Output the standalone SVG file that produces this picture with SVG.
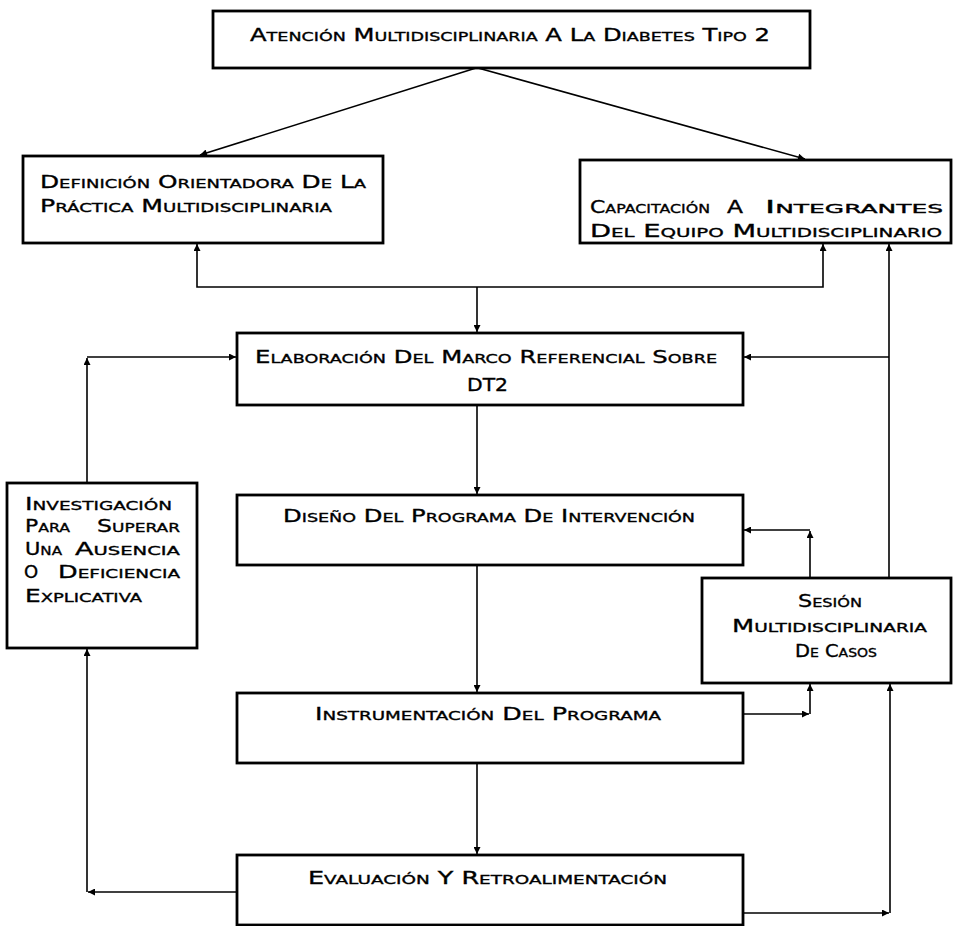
<svg xmlns="http://www.w3.org/2000/svg" width="954" height="926" viewBox="0 0 954 926">
<defs>
<marker id="ah" viewBox="0 0 10 10" refX="10" refY="5" markerWidth="9" markerHeight="7" markerUnits="userSpaceOnUse" orient="auto">
<path d="M0,0 L10,5 L0,10 z" fill="#000"/>
</marker>
<style>
.box{fill:#fff;stroke:#000;stroke-width:2.8}
.t{font-family:"DejaVu Sans","Liberation Sans",sans-serif;font-size:18px;font-variant:small-caps;fill:#000;stroke:#000;stroke-width:0.35}
.c{fill:none;stroke:#000;stroke-width:1.6;marker-end:url(#ah)}
</style>
</defs>
<rect width="954" height="926" fill="#fff"/>
<g id="connectors">
<path class="c" d="M476,68 L200,155"/>
<path class="c" d="M478,68 L805,159"/>
<path class="c" d="M477,287 L477,332"/>
<path class="c" d="M477,287 L197,287 L197,244"/>
<path class="c" d="M477,287 L823,287 L823,244"/>
<path class="c" d="M477,405 L477,494"/>
<path class="c" d="M477,565 L477,692"/>
<path class="c" d="M477,763 L477,854"/>
<path class="c" d="M237,892 L88,892"/>
<path class="c" d="M87,892 L87,649"/>
<path class="c" d="M87,483 L87,358"/>
<path class="c" d="M87,357 L236,357"/>
<path class="c" d="M889,578 L889,244"/>
<path class="c" d="M889,357 L744,357"/>
<path class="c" d="M810,578 L810,531"/>
<path class="c" d="M810,530 L744,530"/>
<path class="c" d="M743,714 L809,714"/>
<path class="c" d="M810,714 L810,684"/>
<path class="c" d="M743,913 L889,913"/>
<path class="c" d="M890,913 L890,684"/>
</g>
<g id="n-atencion">
<rect class="box" x="213" y="11" width="597" height="57"/>
<text class="t" x="250" y="41" textLength="520" lengthAdjust="spacingAndGlyphs">Atención Multidisciplinaria A La Diabetes Tipo 2</text>
</g>
<g id="n-definicion">
<rect class="box" x="23" y="156" width="360" height="87"/>
<text class="t" x="40" y="188" textLength="326" lengthAdjust="spacingAndGlyphs">Definición Orientadora De La</text>
<text class="t" x="40" y="212" textLength="292" lengthAdjust="spacingAndGlyphs">Práctica Multidisciplinaria</text>
</g>
<g id="n-capacitacion">
<rect class="box" x="580" y="160" width="371" height="83"/>
<text class="t" y="213"><tspan x="590" textLength="120" lengthAdjust="spacingAndGlyphs">Capacitación</tspan> <tspan x="727" textLength="16" lengthAdjust="spacingAndGlyphs">A</tspan> <tspan x="765" textLength="178" lengthAdjust="spacingAndGlyphs">Integrantes</tspan></text>
<text class="t" x="590" y="237" textLength="352" lengthAdjust="spacingAndGlyphs">Del Equipo Multidisciplinario</text>
</g>
<g id="n-elaboracion">
<rect class="box" x="237" y="333" width="506" height="72"/>
<text class="t" x="255" y="363" textLength="462" lengthAdjust="spacingAndGlyphs">Elaboración Del Marco Referencial Sobre</text>
<text class="t" x="467" y="391" textLength="41" lengthAdjust="spacingAndGlyphs">DT2</text>
</g>
<g id="n-diseno">
<rect class="box" x="237" y="495" width="506" height="70"/>
<text class="t" x="283" y="522" textLength="412" lengthAdjust="spacingAndGlyphs">Diseño Del Programa De Intervención</text>
</g>
<g id="n-investigacion">
<rect class="box" x="7" y="483" width="190" height="165"/>
<text class="t" x="25" y="510" textLength="147" lengthAdjust="spacingAndGlyphs">Investigación</text>
<text class="t" y="532"><tspan x="25" textLength="45" lengthAdjust="spacingAndGlyphs">Para</tspan> <tspan x="97" textLength="83" lengthAdjust="spacingAndGlyphs">Superar</tspan></text>
<text class="t" y="555"><tspan x="25" textLength="37" lengthAdjust="spacingAndGlyphs">Una</tspan> <tspan x="75" textLength="105" lengthAdjust="spacingAndGlyphs">Ausencia</tspan></text>
<text class="t" y="578"><tspan x="24">O</tspan> <tspan x="58" textLength="122" lengthAdjust="spacingAndGlyphs">Deficiencia</tspan></text>
<text class="t" x="25" y="602" textLength="117" lengthAdjust="spacingAndGlyphs">Explicativa</text>
</g>
<g id="n-sesion">
<rect class="box" x="702" y="578" width="249" height="105"/>
<text class="t" x="798" y="607" textLength="64" lengthAdjust="spacingAndGlyphs">Sesión</text>
<text class="t" x="732" y="632" textLength="195" lengthAdjust="spacingAndGlyphs">Multidisciplinaria</text>
<text class="t" x="795" y="657" textLength="82" lengthAdjust="spacingAndGlyphs">De Casos</text>
</g>
<g id="n-instrumentacion">
<rect class="box" x="237" y="693" width="506" height="70"/>
<text class="t" x="315" y="720" textLength="346" lengthAdjust="spacingAndGlyphs">Instrumentación Del Programa</text>
</g>
<g id="n-evaluacion">
<rect class="box" x="237" y="855" width="506" height="70"/>
<text class="t" x="308" y="884" textLength="359" lengthAdjust="spacingAndGlyphs">Evaluación Y Retroalimentación</text>
</g>
</svg>
